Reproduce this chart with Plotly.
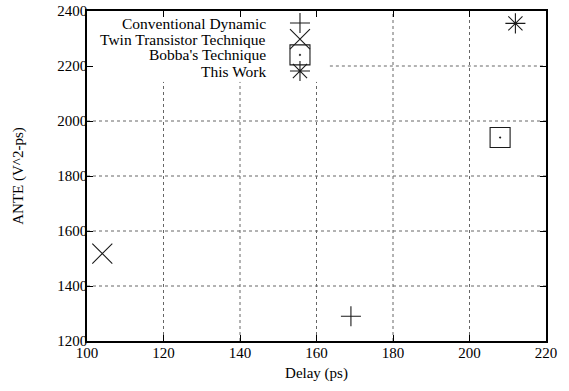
import plotly.graph_objects as go

# Data
series_names = ["Conventional Dynamic", "Twin Transistor Technique", "Bobba's Technique", "This Work"]
delay_ps = [169, 104, 208, 212]
ante = [1290, 1518, 1940, 2355]
symbols = ["cross-thin", "x-thin", "square-open-dot", "asterisk"]
sizes = [14.3, 20, 20, 16.7]

x_ticks = [100, 120, 140, 160, 180, 200, 220]
y_ticks = [1200, 1400, 1600, 1800, 2000, 2200, 2400]
x_range = [100, 220]
y_range = [1200, 2400]

# area occupied by the key (grid is not drawn there)
key_x = [106, 163.5]
key_y = [2142, 2400]

FONT = "Liberation Serif"
INK = "#1a1a1a"
GRID = dict(color="#666", width=1, dash="dot")

fig = go.Figure()

# Dotted grid, interrupted by the key box
for xv in x_ticks[1:-1]:
    top = key_y[0] if key_x[0] <= xv <= key_x[1] else y_range[1]
    fig.add_trace(go.Scatter(x=[xv, xv], y=[y_range[0], top], mode="lines",
                             showlegend=False, hoverinfo="skip", line=GRID))
for yv in y_ticks[1:-1]:
    left = key_x[1] if key_y[0] <= yv <= key_y[1] else x_range[0]
    fig.add_trace(go.Scatter(x=[left, x_range[1]], y=[yv, yv], mode="lines",
                             showlegend=False, hoverinfo="skip", line=GRID))

# Data points
for name, x, y, sym, s in zip(series_names, delay_ps, ante, symbols, sizes):
    fig.add_trace(go.Scatter(
        x=[x], y=[y], mode="markers", name=name, showlegend=False,
        marker=dict(symbol=sym, size=s, color=INK,
                    line=dict(color=INK, width=1.1)),
    ))

# Manual gnuplot-style legend (text left, symbol right), positions as axis fractions
leg_fx = 0.464
leg_fy = [0.9636, 0.915, 0.867, 0.818]
for name, sym, s, fy in zip(series_names, symbols, sizes, leg_fy):
    fig.add_trace(go.Scatter(
        x=[x_range[0] + leg_fx * (x_range[1] - x_range[0])],
        y=[y_range[0] + fy * (y_range[1] - y_range[0])],
        mode="markers", showlegend=False, hoverinfo="skip",
        marker=dict(symbol=sym, size=s, color=INK,
                    line=dict(color=INK, width=1.1)),
    ))
    fig.add_annotation(
        x=0.394, y=fy, xref="x domain", yref="y domain", text=name,
        showarrow=False, xanchor="right", yanchor="middle",
        font=dict(family=FONT, size=15.5, color="black"),
    )

axis_common = dict(
    showline=True, linecolor="black", linewidth=1.5, mirror="ticks",
    ticks="inside", ticklen=6, tickwidth=1, tickcolor="black",
    showgrid=False, zeroline=False, automargin=False,
    tickfont=dict(family=FONT, size=15, color="black"),
)

fig.update_layout(
    width=569, height=391,
    margin=dict(l=87, r=23, t=11, b=50),
    plot_bgcolor="white", paper_bgcolor="white",
    showlegend=False,
    xaxis=dict(range=x_range, tickvals=x_ticks, ticklabelstandoff=-3,
               title=dict(text="Delay (ps)", font=dict(family=FONT, size=15, color="black"), standoff=8),
               **axis_common),
    yaxis=dict(range=y_range, tickvals=y_ticks, ticklabelstandoff=-5,
               title=dict(text="ANTE (V^2-ps)", font=dict(family=FONT, size=15, color="black"), standoff=30),
               **axis_common),
)

fig.write_html("out.html")
